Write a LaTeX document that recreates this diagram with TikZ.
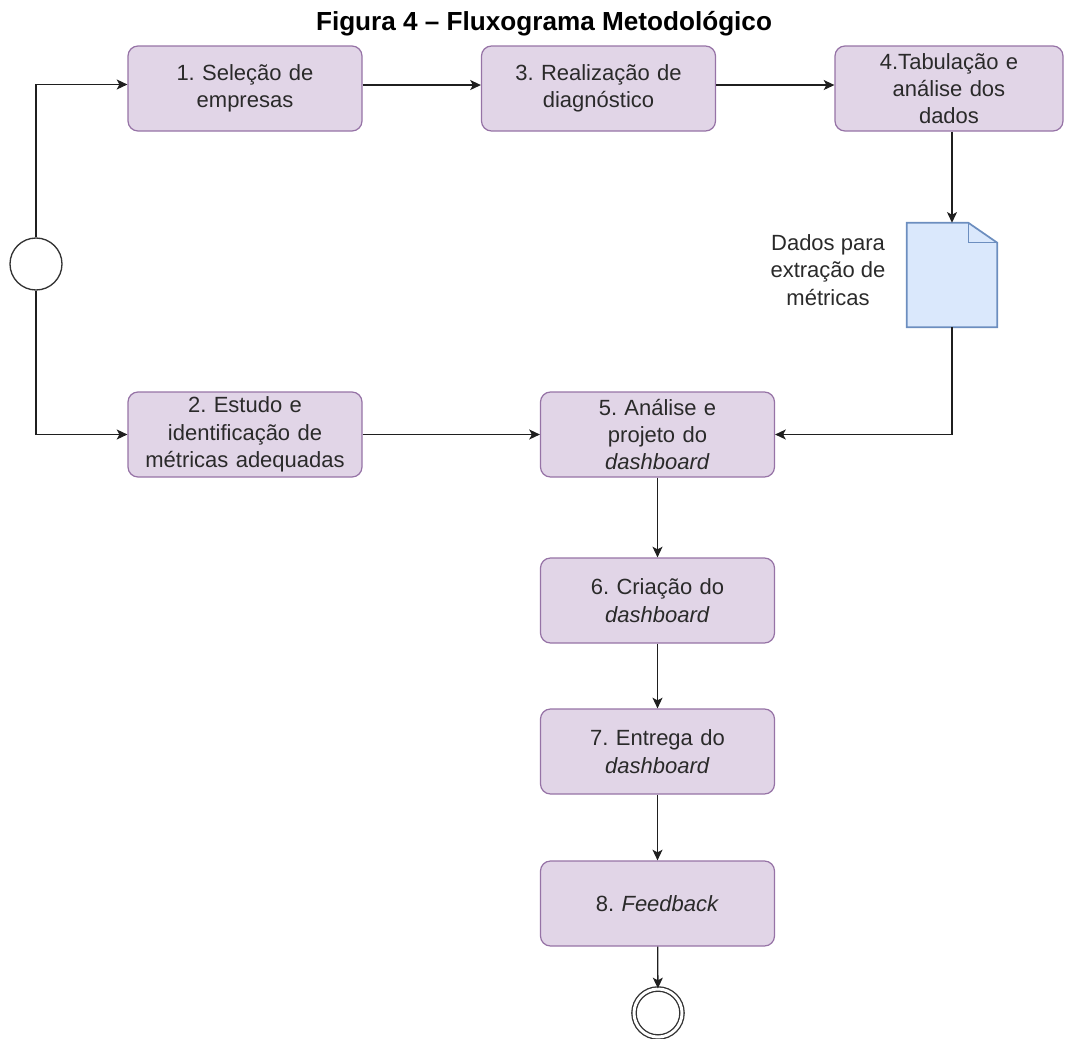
\documentclass[tikz,border=0pt]{standalone}
\usepackage{fontspec}
\setmainfont{Liberation Sans}
\usetikzlibrary{arrows.meta}
\definecolor{pfill}{HTML}{E1D5E7}
\definecolor{pdraw}{HTML}{9673A6}
\definecolor{bfill}{HTML}{DAE8FC}
\definecolor{bdraw}{HTML}{6C8EBF}
\definecolor{txt}{HTML}{2A2A2A}
\frenchspacing
\begin{document}
\begin{tikzpicture}[x=0.75pt,y=-0.75pt,
  box/.style={draw=pdraw, fill=pfill, rounded corners=7.5pt, minimum width=175.5pt,
    minimum height=63.75pt, align=center, text width=165pt, inner sep=0pt,
    font=\fontsize{16.5}{20.5}\selectfont, text=txt, line width=0.9pt},
  conn/.style={-{Stealth[length=8pt,width=7.5pt,inset=2pt]}, line width=1pt, draw=black!88},
  evt/.style={circle, draw=black!80, fill=white, minimum size=39pt, inner sep=0pt, line width=1pt}
]
\useasboundingbox (0,0) rectangle (1065,1039);

\node[font=\bfseries\fontsize{19.6}{22}\selectfont] (title) at (544,24) {Figura 4 – Fluxograma Metodológico};

\node[box] (b1) at (245,88.5) {1. Seleção de\\empresas};
\node[box] (b3) at (598.5,88.5) {3. Realização de\\diagnóstico};
\node[box, minimum width=171pt] (b4) at (949,88.5) {4.Tabulação e\\análise dos\\dados};
\node[box] (b2) at (245,434.5) {2. Estudo e\\identificação de\\métricas adequadas};
\node[box] (b5) at (657.5,434.5) {5. Análise e\\projeto do\\\textit{dashboard}};
\node[box] (b6) at (657.5,600.5) {6. Criação do\\\textit{dashboard}};
\node[box] (b7) at (657.5,751.5) {7. Entrega do\\\textit{dashboard}};
\node[box] (b8) at (657.5,903.5) {8. \textit{Feedback}};

\node[evt] (start) at (36,264) {};
\node[evt, double, double distance=2.2pt, minimum size=36pt] (end) at (658,1013) {};

\node[minimum width=67.5pt, minimum height=78pt, inner sep=0pt] (doc) at (952,275) {};
\draw[draw=bdraw, fill=bfill, line width=1.3pt, line join=miter]
  (doc.north west) -- ([xshift=-21.75pt]doc.north east) -- ([yshift=-15pt]doc.north east)
  -- (doc.south east) -- (doc.south west) -- cycle;
\draw[draw=bdraw, line width=1pt]
  ([xshift=-21.75pt]doc.north east) |- ([yshift=-15pt]doc.north east);
\node[align=center, font=\fontsize{16.5}{20.5}\selectfont, text=txt] (lbl) at (828,270)
  {Dados para\\extração de\\métricas};

\draw[conn] (start.north) |- ([yshift=3pt]b1.west);
\draw[conn] (start.south) |- (b2.west);
\draw[conn] ([yshift=2.6pt]b1.east) -- ([yshift=2.6pt]b3.west);
\draw[conn] ([yshift=2.6pt]b3.east) -- ([yshift=2.6pt]b4.west);
\draw[conn] (b4.south -| doc.north) -- (doc.north);
\draw[conn] (doc.south) |- (b5.east);
\draw[conn] (b2.east) -- (b5.west);
\draw[conn] (b5) -- (b6);
\draw[conn] (b6) -- (b7);
\draw[conn] (b7) -- (b8);
\draw[conn] (b8) -- (end);
\end{tikzpicture}
\end{document}
